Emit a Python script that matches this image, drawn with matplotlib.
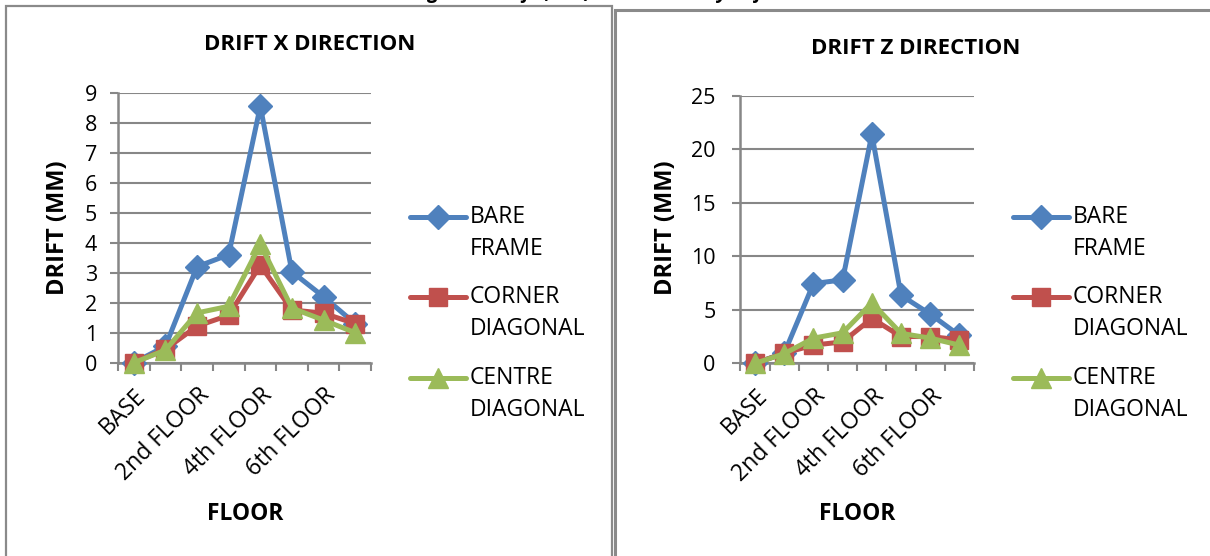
import matplotlib
matplotlib.use("Agg")
import matplotlib.pyplot as plt
from matplotlib.lines import Line2D
from matplotlib.patches import Rectangle

plt.rcParams['font.family'] = ['Open Sans', 'DejaVu Sans']

floors = ["BASE", "1st FLOOR", "2nd FLOOR", "3rd FLOOR", "4th FLOOR",
          "5th FLOOR", "6th FLOOR", "7th FLOOR"]
series_names = ["BARE FRAME", "CORNER DIAGONAL", "CENTRE DIAGONAL"]

drift_x_bare = [0.0, 0.55, 3.2, 3.6, 8.55, 3.03, 2.2, 1.3]
drift_x_corner = [0.0, 0.45, 1.22, 1.58, 3.25, 1.76, 1.65, 1.3]
drift_x_centre = [0.0, 0.42, 1.66, 1.88, 3.95, 1.82, 1.42, 1.0]

drift_z_bare = [0.0, 0.95, 7.45, 7.8, 21.4, 6.35, 4.6, 2.6]
drift_z_corner = [0.0, 0.95, 1.7, 2.0, 4.2, 2.5, 2.5, 2.2]
drift_z_centre = [0.0, 0.9, 2.35, 2.85, 5.65, 2.8, 2.35, 1.7]

colors = ["#4F81BD", "#C0504D", "#9BBB59"]
markers = ["D", "s", "^"]
msizes = [12.5, 12.5, 15]
GRID = "#878787"
LW = 3.6

W, H = 1210, 556
fig = plt.figure(figsize=(W / 100, H / 100), dpi=100)


def fx(x):
    return x / W


def fy(y):
    return 1 - y / H


# panel borders
fig.add_artist(Rectangle((fx(6), fy(560)), fx(612) - fx(6), fy(6) - fy(560),
                         transform=fig.transFigure, fill=False,
                         edgecolor="#8a8a8a", lw=1.6))
fig.add_artist(Rectangle((fx(615), fy(560)), fx(1215) - fx(615), fy(9.5) - fy(560),
                         transform=fig.transFigure, fill=False,
                         edgecolor="#8a8a8a", lw=2.2))

# partially cut caption at top
fig.text(fx(623), fy(-2), "Figure 5: Drift (mm) at each storey before test",
         ha="center", va="baseline", fontsize=14, style="italic",
         fontweight="bold", color="black")


def make_panel(rect, data, ymax, ystep, title, title_xy, ylabel_x, floor_x,
               legend_x, ypad):
    ax = fig.add_axes(rect)
    x = list(range(len(floors)))
    for vals, c, m, ms in zip(data, colors, markers, msizes):
        ax.plot(x, vals, color=c, lw=LW, marker=m, markersize=ms,
                markeredgecolor=c, solid_joinstyle="round",
                solid_capstyle="round", zorder=3, clip_on=False)
    ax.set_xlim(-0.5, len(floors) - 0.5)
    ax.set_ylim(0, ymax)
    ax.set_yticks([v for v in range(0, ymax + 1, ystep)])
    ax.yaxis.grid(True, color=GRID, lw=1.5)
    ax.set_axisbelow(True)
    for s in ["top", "right"]:
        ax.spines[s].set_visible(False)
    for s in ["left", "bottom"]:
        ax.spines[s].set_color(GRID)
        ax.spines[s].set_linewidth(1.8)
    ax.tick_params(axis="y", length=6, width=1.5, color=GRID, labelsize=15.5,
                   pad=ypad)
    ax.set_xticks([i - 0.5 for i in range(len(floors) + 1)], minor=True)
    ax.set_xticks([0, 2, 4, 6])
    ax.set_xticklabels([floors[i] for i in [0, 2, 4, 6]], rotation=45,
                       ha="right", va="top", rotation_mode="anchor",
                       fontsize=16.5)
    ax.tick_params(axis="x", which="major", length=0, pad=15)
    ax.tick_params(axis="x", which="minor", length=6, width=1.5, color=GRID)
    ax.set_facecolor("none")

    fig.text(fx(title_xy[0]), fy(title_xy[1]), title, ha="center",
             va="center", fontsize=16, fontweight="bold")
    fig.text(fx(ylabel_x), fy(228), "DRIFT (MM)", ha="center", va="center",
             rotation=90, fontsize=17, fontweight="bold")
    fig.text(fx(floor_x), fy(514), "FLOOR", ha="center", va="center",
             fontsize=16.5, fontweight="bold")

    # legend
    rows = [217, 297, 378]
    for name, c, m, ms, yr in zip(series_names, colors, markers, msizes, rows):
        x0, x1 = legend_x, legend_x + 56
        ln = Line2D([fx(x0), fx((x0 + x1) / 2), fx(x1)], [fy(yr)] * 3,
                    transform=fig.transFigure, color=c, lw=LW,
                    solid_capstyle="round", marker=m, markersize=ms,
                    markeredgecolor=c, markevery=[1])
        fig.add_artist(ln)
        parts = name.split(" ")
        for k, p in enumerate(parts):
            fig.text(fx(x1 + 4), fy(yr + 32 * k), p, ha="left", va="center",
                     fontsize=16.5)
    return ax


make_panel([fx(118), fy(362.7), fx(371) - fx(118), fy(92.7) - fy(362.7)],
           [drift_x_bare, drift_x_corner, drift_x_centre], 9, 1,
           "DRIFT X DIRECTION", (310, 44), 58, 245, 410, 9)
make_panel([fx(740.5), fy(363.3), fx(974) - fx(740.5), fy(95.8) - fy(363.3)],
           [drift_z_bare, drift_z_corner, drift_z_centre], 25, 5,
           "DRIFT Z DIRECTION", (916, 48), 666, 857, 1013, 12)

fig.savefig("out.png", dpi=100)
